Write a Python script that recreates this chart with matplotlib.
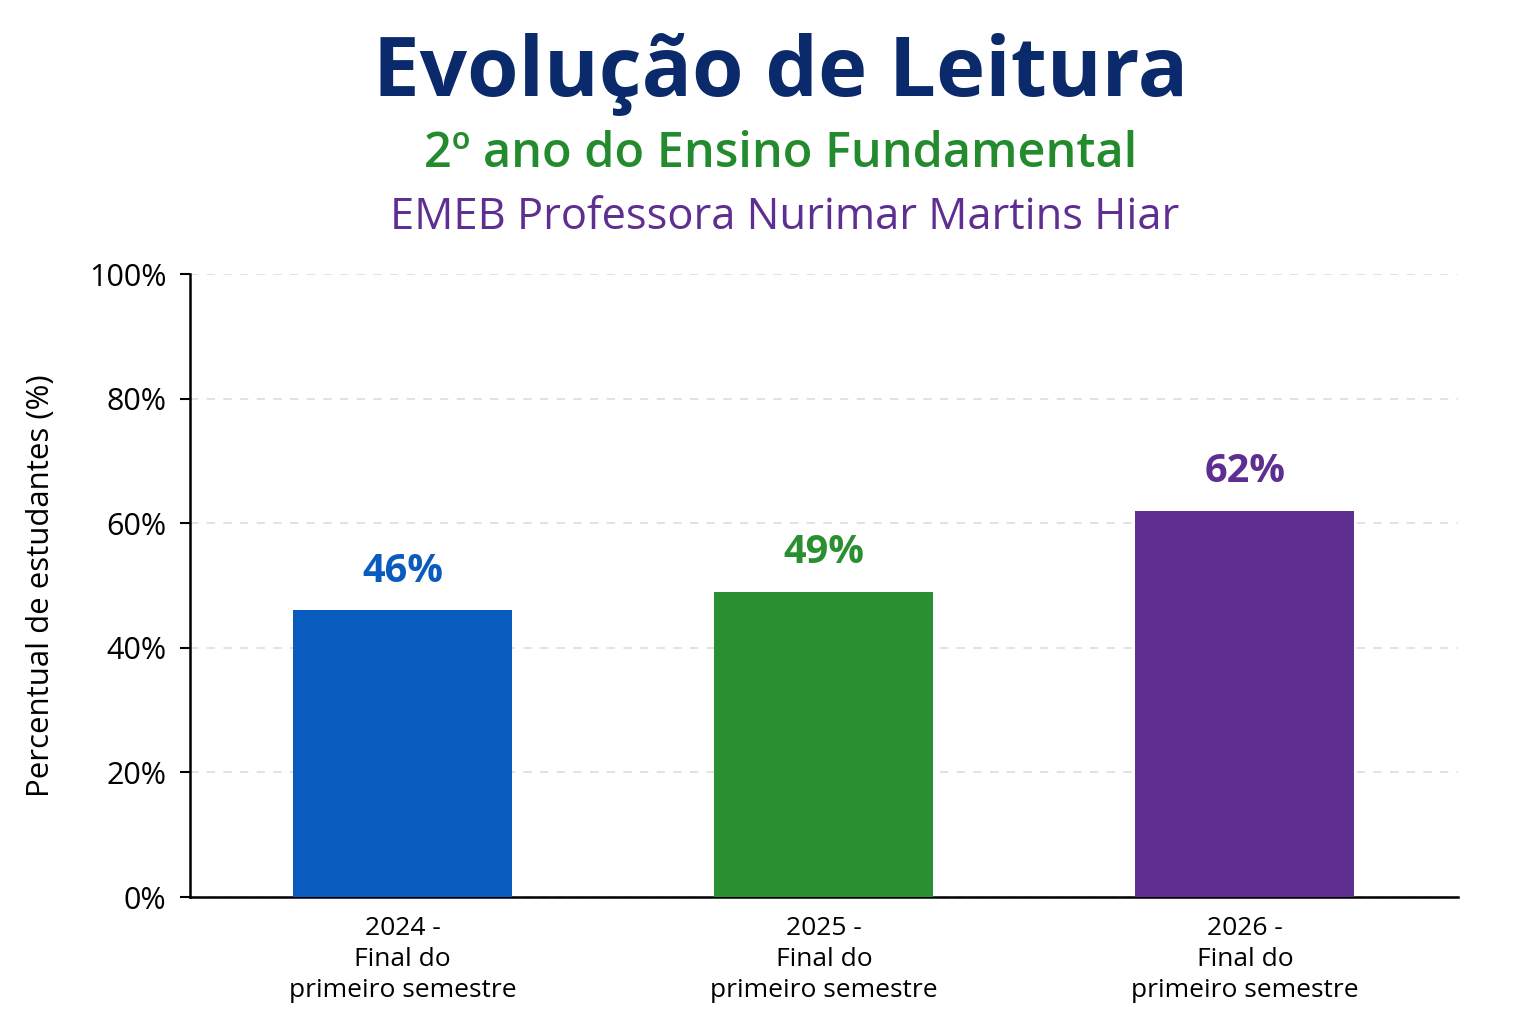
import matplotlib
matplotlib.use("Agg")
import matplotlib.pyplot as plt

categorias = ["2024 -\nFinal do\nprimeiro semestre",
              "2025 -\nFinal do\nprimeiro semestre",
              "2026 -\nFinal do\nprimeiro semestre"]
valores = [46, 49, 62]
rotulos = ["46%", "49%", "62%"]
cores = ["#0A5BBE", "#2A8F31", "#5E2F91"]
yticks = [0, 20, 40, 60, 80, 100]
ytick_labels = ["0%", "20%", "40%", "60%", "80%", "100%"]

plt.rcParams['font.family'] = ['Open Sans', 'DejaVu Sans']

fig = plt.figure(figsize=(15.36, 10.24), dpi=100)
ax = fig.add_axes([0.1237, 0.124, 0.8253, 0.6084])

x = range(len(valores))
ax.bar(x, valores, 0.52, color=cores, zorder=3)

for i in x:
    ax.annotate(rotulos[i], (i, valores[i]), xytext=(0, 14), textcoords='offset points',
                ha='center', va='bottom', fontsize=28.5, fontweight='bold', color=cores[i])

ax.set_xlim(-0.505, 2.505)
ax.set_ylim(0, 100)
ax.set_yticks(yticks)
ax.set_yticklabels(ytick_labels, fontsize=22)
ax.set_xticks(list(x))
ax.set_xticklabels(categorias, fontsize=19, linespacing=1.3)
ax.tick_params(axis='x', length=0, pad=14)
ax.tick_params(axis='y', length=7, width=1.5, pad=10)
ax.set_ylabel("Percentual de estudantes (%)", fontsize=22.5, labelpad=24)

ax.yaxis.grid(True, linestyle=(0, (5, 5)), color='#dddddd', linewidth=1.2, zorder=0)
ax.spines['top'].set_visible(False)
ax.spines['right'].set_visible(False)
ax.spines['left'].set_linewidth(1.8)
ax.spines['bottom'].set_linewidth(1.8)

fig.text(0.508, 0.927, "Evolução de Leitura", ha='center', va='center',
         fontsize=60, fontweight='bold', color='#0B2A6B')
fig.text(0.508, 0.849, "2º ano do Ensino Fundamental", ha='center', va='center',
         fontsize=35, fontweight='semibold', color='#238B2D')
fig.text(0.511, 0.787, "EMEB Professora Nurimar Martins Hiar", ha='center', va='center',
         fontsize=31.3, color='#5E2F91')

fig.savefig("out.png", dpi=100, facecolor='white')
